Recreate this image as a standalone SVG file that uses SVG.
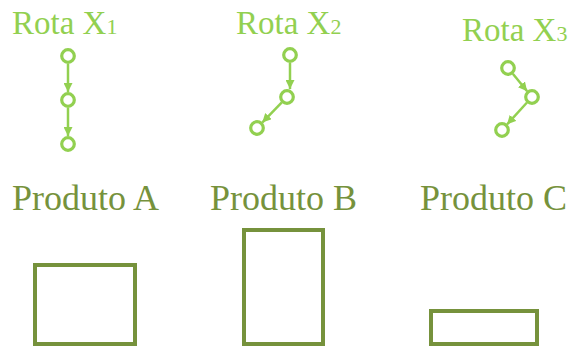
<svg xmlns="http://www.w3.org/2000/svg" width="572" height="347" viewBox="0 0 572 347">
<style>
.rt{font-family:"Liberation Serif","Times New Roman",serif;font-size:33px;fill:#92D050}
.sub{font-size:22px}
.pt{font-family:"Liberation Serif","Times New Roman",serif;font-size:36px;fill:#76923C}
.node{fill:#fff;stroke:#92D050;stroke-width:3.2}
.edge{stroke:#92D050;stroke-width:2.5;fill:none}
.prod{fill:none;stroke:#76923C;stroke-width:4}
</style>
<defs>
<marker id="ah" viewBox="0 0 10 10" refX="10" refY="5" markerWidth="9" markerHeight="9" markerUnits="userSpaceOnUse" orient="auto">
<path d="M0,0 L10,5 L0,10 z" fill="#92D050"/>
</marker>
</defs>
<g id="labels">
<text class="rt" x="12" y="34">Rota X<tspan class="sub">1</tspan></text>
<text class="rt" x="236" y="34">Rota X<tspan class="sub">2</tspan></text>
<text class="rt" x="462" y="41">Rota X<tspan class="sub">3</tspan></text>
<text class="pt" x="12" y="210">Produto A</text>
<text class="pt" x="210" y="210">Produto B</text>
<text class="pt" x="420" y="210">Produto C</text>
</g>
<g id="connectors">
<line class="edge" x1="68" y1="64" x2="68" y2="92" marker-end="url(#ah)"/>
<line class="edge" x1="68" y1="108" x2="68" y2="136" marker-end="url(#ah)"/>
<line class="edge" x1="290" y1="63" x2="290" y2="89" marker-end="url(#ah)"/>
<line class="edge" x1="281.8" y1="102.4" x2="262.2" y2="122.6" marker-end="url(#ah)"/>
<line class="edge" x1="512.8" y1="73.8" x2="527.2" y2="91.2" marker-end="url(#ah)"/>
<line class="edge" x1="527" y1="102.5" x2="507" y2="124.5" marker-end="url(#ah)"/>
</g>
<g id="route1">
<circle class="node" cx="68" cy="56" r="6.3"/>
<circle class="node" cx="68" cy="100" r="6.3"/>
<circle class="node" cx="68" cy="144" r="6.3"/>
</g>
<g id="route2">
<circle class="node" cx="290" cy="55" r="6.3"/>
<circle class="node" cx="287" cy="97" r="6.3"/>
<circle class="node" cx="257" cy="128" r="6.3"/>
</g>
<g id="route3">
<circle class="node" cx="508" cy="68" r="6.3"/>
<circle class="node" cx="532" cy="97" r="6.3"/>
<circle class="node" cx="502" cy="130" r="6.3"/>
</g>
<g id="productA"><rect class="prod" x="35" y="265" width="100" height="79"/></g>
<g id="productB"><rect class="prod" x="244" y="230" width="79" height="114"/></g>
<g id="productC"><rect class="prod" x="431" y="311" width="106" height="33"/></g>
</svg>
